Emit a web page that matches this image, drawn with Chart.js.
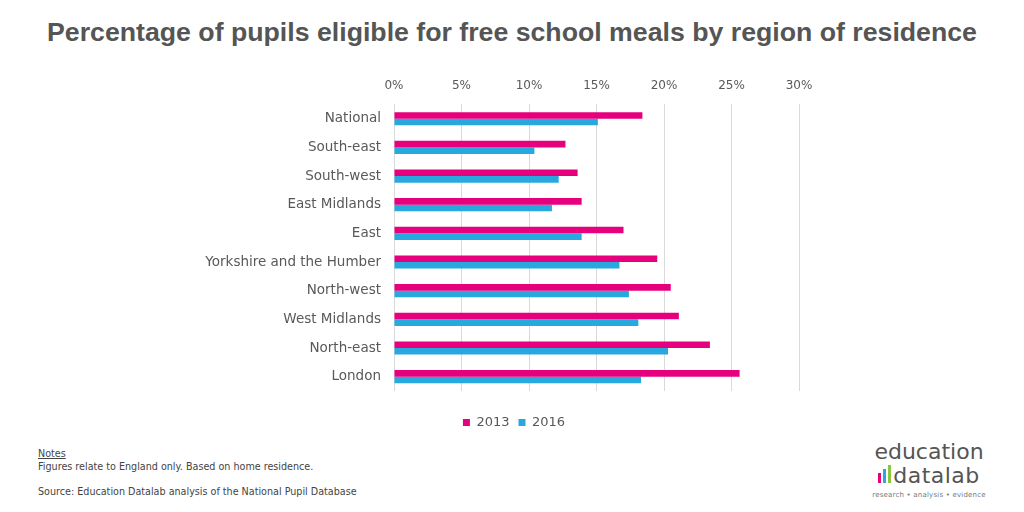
<!DOCTYPE html>
<html>
<head>
<meta charset="utf-8">
<script src="https://cdn.jsdelivr.net/npm/chart.js@4"></script>
<style>
  body { margin: 0; width: 1024px; height: 512px; background: #fff; font-family: "DejaVu Sans", sans-serif; position: relative; overflow: hidden; }
  #title { position: absolute; top: 17px; left: 0; width: 1024px; text-align: center; font-family: "Liberation Sans", Arial, sans-serif; font-weight: bold; font-size: 26.7px; color: #555; }
  #box { position: absolute; left: 0; top: 68px; width: 1024px; height: 371px; }
  #notes { position: absolute; left: 38px; top: 448px; font-size: 9.6px; color: #444; line-height: 12.5px; }
  #notes u { text-decoration: underline; }
  #logo { position: absolute; left: 866px; top: 440px; width: 126px; text-align: center; color: #555; }
  #logo .l1 { font-size: 22px; line-height: 24px; }
  #logo .l2 { font-size: 22px; line-height: 24px; letter-spacing: 0.5px; }
  #logo .l3 { font-size: 7px; color: #777; letter-spacing: 0.2px; margin-top: 3px; }
  .bar { display: inline-block; width: 3px; margin-right: 2px; vertical-align: baseline; }
</style>
</head>
<body>
<div id="title">Percentage of pupils eligible for free school meals by region of residence</div>
<div id="box"><canvas id="chart"></canvas></div>
<div id="notes">
  <u>Notes</u><br>
  Figures relate to England only. Based on home residence.<br><br>
  Source: Education Datalab analysis of the National Pupil Database
</div>
<div id="logo">
  <div class="l1">education</div>
  <div class="l2"><span class="bar" style="height:10px;background:#e6007e"></span><span class="bar" style="height:14px;background:#29a8e0"></span><span class="bar" style="height:18px;background:#8cc63f"></span>datalab</div>
  <div class="l3">research &bull; analysis &bull; evidence</div>
</div>
<script>
const regions = ["National", "South-east", "South-west", "East Midlands", "East",
  "Yorkshire and the Humber", "North-west", "West Midlands", "North-east", "London"];
const values2013 = [18.4, 12.7, 13.6, 13.9, 17.0, 19.5, 20.5, 21.1, 23.4, 25.6];
const values2016 = [15.1, 10.4, 12.2, 11.7, 13.9, 16.7, 17.4, 18.1, 20.3, 18.3];
const xTicks = [0, 5, 10, 15, 20, 25, 30];

// legend sits lower and is centred on the page, not on the plot
const legendSpot = {
  id: "legendSpot",
  beforeInit(chart) {
    const fit = chart.legend.fit;
    chart.legend.fit = function () {
      fit.call(this);
      this.height = 48;
    };
  },
  afterLayout(chart) {
    chart.legend.left = 0;
    chart.legend.right = 1028;
    chart.legend.width = 1028;
    chart.legend.top += 16;
  }
};

const ctx = document.getElementById("chart").getContext("2d");

new Chart(ctx, {
  type: "bar",
  data: {
    labels: regions,
    datasets: [
      { label: "2013", data: values2013, backgroundColor: "#e6007e" },
      { label: "2016", data: values2016, backgroundColor: "#29a8e0" }
    ]
  },
  options: {
    indexAxis: "y",
    responsive: true,
    maintainAspectRatio: false,
    animation: false,
    layout: { padding: { top: 0, right: 225, bottom: 0, left: 0 } },
    datasets: { bar: { categoryPercentage: 0.46, barPercentage: 1.0 } },
    scales: {
      x: {
        position: "top",
        min: 0,
        max: 30,
        afterBuildTicks: (scale) => { scale.ticks = xTicks.map(v => ({ value: v })); },
        ticks: {
          color: "#595959",
          font: { family: "DejaVu Sans", size: 12 },
          padding: 11,
          callback: (v) => v + "%"
        },
        grid: { color: "#d9d9d9", lineWidth: 1, drawTicks: false },
        border: { display: false }
      },
      y: {
        afterFit: (scale) => { scale.width = 394; },
        ticks: {
          color: "#595959",
          font: { family: "DejaVu Sans", size: 13.5 },
          padding: 13
        },
        grid: { display: false, drawTicks: false },
        border: { display: false }
      }
    },
    plugins: {
      legend: {
        position: "bottom",
        labels: {
          color: "#595959",
          font: { family: "DejaVu Sans", size: 13 },
          boxWidth: 7,
          boxHeight: 7,
          padding: 9
        }
      },
      tooltip: { enabled: false }
    }
  },
  plugins: [legendSpot]
});
</script>
</body>
</html>
